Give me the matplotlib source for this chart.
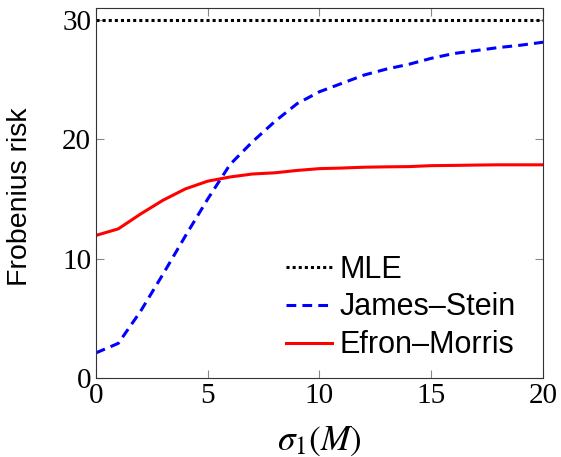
import matplotlib.pyplot as plt

plt.rcParams['mathtext.fontset'] = 'stix'

sigma = list(range(0, 21))
mle = [30] * 21
james_stein = [2.1, 2.9, 5.6, 8.7, 11.9, 15.0, 17.9, 19.8, 21.5, 23.0, 24.0,
               24.7, 25.4, 25.9, 26.3, 26.8, 27.2, 27.45, 27.7, 27.9, 28.15]
efron_morris = [11.95, 12.5, 13.75, 14.9, 15.85, 16.5, 16.85, 17.1, 17.2, 17.4, 17.55,
                17.6, 17.67, 17.7, 17.72, 17.8, 17.82, 17.85, 17.87, 17.87, 17.87]

fig = plt.figure(figsize=(5.61, 4.57), dpi=100)
ax = fig.add_axes([0.171, 0.173, 0.797, 0.809])

ax.plot(sigma, mle, color='black', linestyle=(0, (1, 1)), linewidth=2.2, label='MLE')
ax.plot(sigma, james_stein, color='blue', linestyle=(0, (3.2, 2)), linewidth=2.2, label='James–Stein')
ax.plot(sigma, efron_morris, color='red', linestyle='-', linewidth=2.2, label='Efron–Morris')

ax.set_xlim(0, 20)
ax.set_ylim(0, 31)
ax.set_xticks([0, 5, 10, 15, 20])
ax.set_yticks([0, 10, 20, 30])
ax.tick_params(direction='in', top=True, right=True, length=6, color='#888888')
for lab in ax.get_xticklabels() + ax.get_yticklabels():
    lab.set_family('Liberation Serif')
    lab.set_fontsize(21)
for s in ax.spines.values():
    s.set_color('#333333')

ax.set_xlabel(r'$\sigma_1(M)$', fontsize=25.5)
ax.xaxis.set_label_coords(0.5, -0.125)
ax.set_ylabel('Frobenius risk', fontsize=20.5, family='Liberation Sans')
ax.yaxis.set_label_coords(-0.141, 0.49)

leg = ax.legend(loc='lower right', frameon=False, prop={'family': 'Liberation Sans', 'size': 22},
                handlelength=1.5, handletextpad=0.25, labelspacing=0.26,
                bbox_to_anchor=(1.0, -0.027))

fig.savefig('out.png', dpi=100)
